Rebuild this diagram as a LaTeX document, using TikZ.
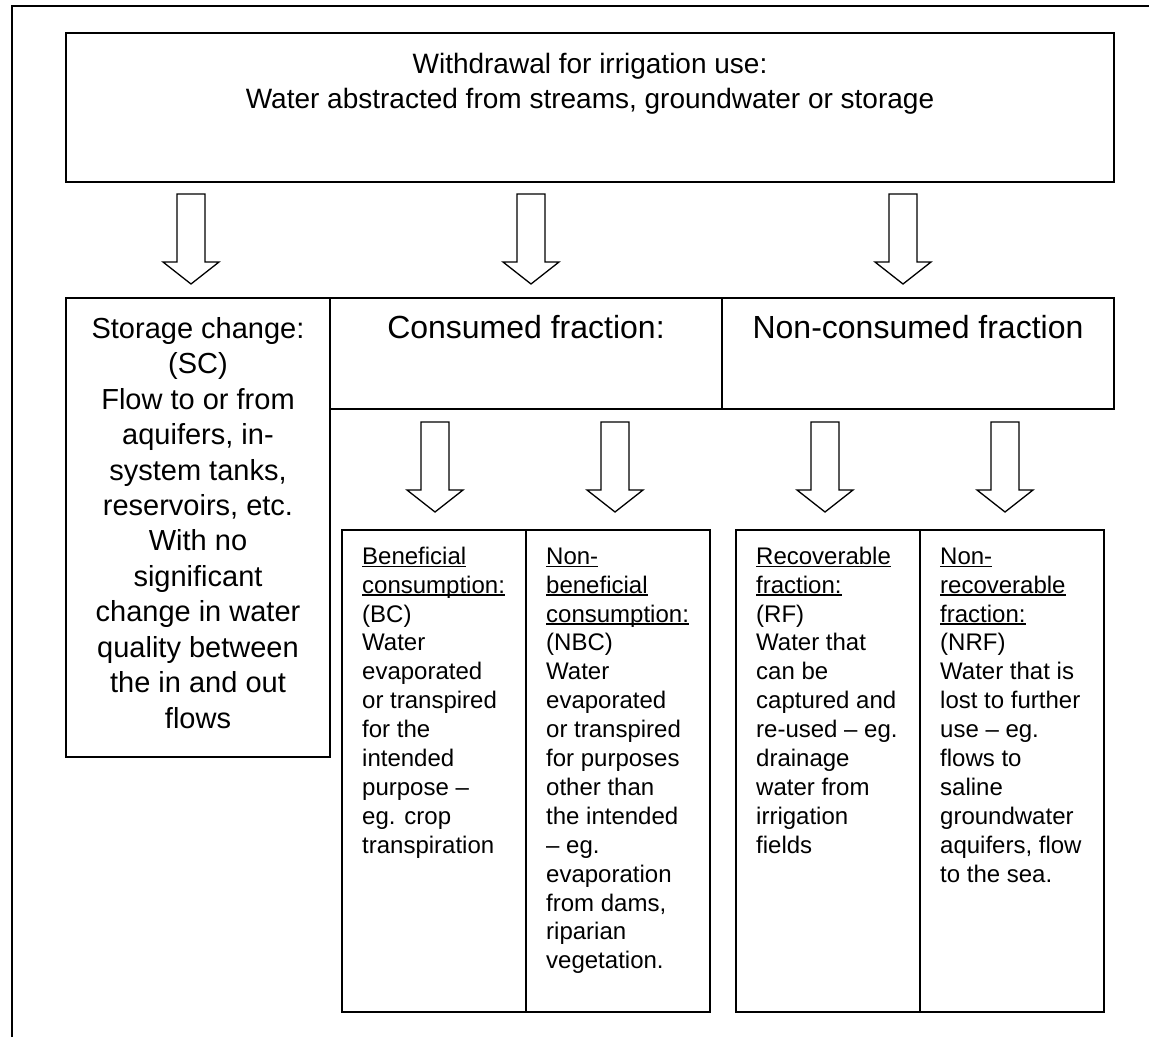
\documentclass[tikz,border=0pt]{standalone}
\usepackage{fontspec}
\setmainfont{Liberation Sans}
\newcommand\myul[1]{\setbox0\hbox{#1}\rlap{\rule[-2.6pt]{\wd0}{1.3pt}}\box0}
\newcommand\dnarrow[2]{%
  \draw[arr] (#1-14,#2) -- (#1+14,#2) -- (#1+14,#2+68) -- (#1+28,#2+68)
    -- (#1,#2+90) -- (#1-28,#2+68) -- (#1-14,#2+68) -- cycle;}
\begin{document}
\begin{tikzpicture}[x=1pt,y=-1pt,
  box/.style={draw, line width=1.6pt, inner sep=0pt, rectangle},
  arr/.style={draw, line width=1.3pt, fill=white, line join=miter},
  frame/.style={line width=2.6pt},
  bigtxt/.style={inner sep=0pt, align=center, font=\fontsize{28}{35}\selectfont},
  sctxt/.style={inner sep=0pt, align=center, font=\fontsize{29}{35.45}\selectfont},
  midtxt/.style={inner sep=0pt, font=\fontsize{32}{38}\selectfont},
  smtxt/.style={inner sep=0pt, align=left, anchor=north west, font=\fontsize{24}{28.9}\selectfont}]
\useasboundingbox (0,0) rectangle (1149,1037);
% outer frame
\coordinate (fl) at (12,1037);
\coordinate (fc) at (12,6);
\coordinate (fr) at (1149,6);
\draw[frame] (fl) -- (fc) -- (fr);
% boxes
\node[box, minimum width=1048, minimum height=149] (top) at (590,107.5) {};
\node[box, minimum width=264, minimum height=459] (sc) at (198,527.5) {};
\node[box, minimum width=392, minimum height=111] (cf) at (526,353.5) {};
\node[box, minimum width=392, minimum height=111] (ncf) at (918,353.5) {};
\node[box, minimum width=184, minimum height=482] (bc) at (434,771) {};
\node[box, minimum width=184, minimum height=482] (nbc) at (618,771) {};
\node[box, minimum width=184, minimum height=482] (rf) at (828,771) {};
\node[box, minimum width=184, minimum height=482] (nrf) at (1012,771) {};
% arrows
\dnarrow{191}{194}
\dnarrow{531}{194}
\dnarrow{903}{194}
\dnarrow{435}{422}
\dnarrow{615}{422}
\dnarrow{825}{422}
\dnarrow{1005}{422}
% texts
\node[bigtxt, anchor=north] (toptxt) at (590,48.5) {\strut Withdrawal for irrigation use:\\Water abstracted from streams, groundwater or storage};
\node[sctxt, anchor=north] (sctx) at (198,313.2) {\strut Storage change:\\(SC)\\Flow to or from\\aquifers, in-\\system tanks,\\reservoirs, etc.\\With no\\significant\\change in water\\quality between\\the in and out\\flows};
\node[midtxt, anchor=base] (cftx) at (526,338) {Consumed fraction:};
\node[midtxt, anchor=base] (ncftx) at (918,338) {Non-consumed fraction};
\node[smtxt] (bctx) at (362,543.8) {\strut\myul{Beneficial}\\\myul{consumption:}\\(BC)\\Water\\evaporated\\or transpired\\for the\\intended\\purpose –\\eg. crop\\transpiration};
\node[smtxt] (nbctx) at (546,543.8) {\strut\myul{Non-}\\\myul{beneficial}\\\myul{consumption:}\\(NBC)\\Water\\evaporated\\or transpired\\for purposes\\other than\\the intended\\– eg.\\evaporation\\from dams,\\riparian\\vegetation.};
\node[smtxt] (rftx) at (756,543.8) {\strut\myul{Recoverable}\\\myul{fraction:}\\(RF)\\Water that\\can be\\captured and\\re-used – eg.\\drainage\\water from\\irrigation\\fields};
\node[smtxt] (nrftx) at (940,543.8) {\strut\myul{Non-}\\\myul{recoverable}\\\myul{fraction:}\\(NRF)\\Water that is\\lost to further\\use – eg.\\flows to\\saline\\groundwater\\aquifers, flow\\to the sea.};
\end{tikzpicture}
\end{document}
